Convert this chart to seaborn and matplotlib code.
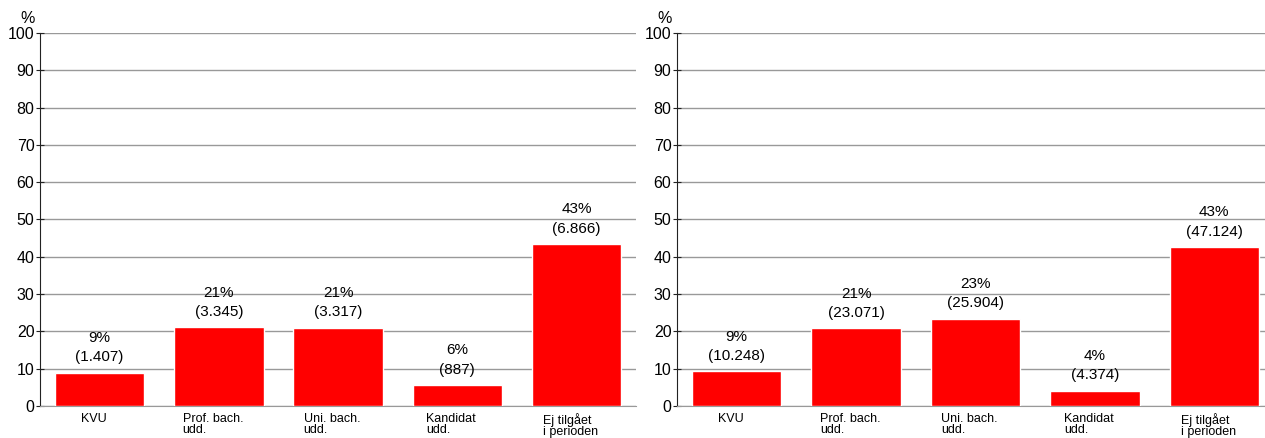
import matplotlib
matplotlib.use("Agg")
import matplotlib.pyplot as plt
import matplotlib.transforms as mtransforms
import seaborn as sns
import pandas as pd

categories = ["KVU", "Prof. bach.\nudd.", "Uni. bach.\nudd.", "Kandidat\nudd.", "Ej tilgået\ni perioden"]
left_pct = [8.9, 21.1, 21.0, 5.6, 43.4]
left_n = [1407, 3345, 3317, 887, 6866]
right_pct = [9.3, 20.8, 23.4, 4.0, 42.6]
right_n = [10248, 23071, 25904, 4374, 47124]
yticks = [0, 10, 20, 30, 40, 50, 60, 70, 80, 90, 100]

sns.set_style("white")
plt.rcParams['font.family'] = ['Liberation Sans', 'DejaVu Sans']
plt.rcParams['text.color'] = 'black'
plt.rcParams['xtick.color'] = 'black'
plt.rcParams['ytick.color'] = 'black'

fig = plt.figure(figsize=(12.65, 4.38), dpi=100)
positions = [[40 / 1265, 0.0731, 596 / 1265, 0.8516],
             [677 / 1265, 0.0731, 597 / 1265, 0.8516]]


def panel(ax, pct, counts):
    df = pd.DataFrame({"cat": categories, "pct": pct})
    sns.barplot(data=df, x="cat", y="pct", color="#ff0000", saturation=1,
                width=0.75, ax=ax, zorder=3)
    ax.set_xlim(-0.5, 4.5)
    ax.set_ylim(0, 100)
    ax.set_yticks(yticks)
    ax.yaxis.grid(True, color="#999999", linewidth=1, zorder=0)
    ax.set_xlabel("")
    ax.set_ylabel("")
    for s in ["top", "right"]:
        ax.spines[s].set_visible(False)
    ax.spines["left"].set_color("#222222")
    ax.spines["bottom"].set_color("#999999")
    ax.tick_params(axis="y", direction="inout", length=6, color="#222222",
                   labelsize=11.5, pad=1, left=True)
    ax.tick_params(axis="x", length=0, labelsize=9, pad=5)
    shift = mtransforms.ScaledTranslation(-6 / 100, 0, fig.dpi_scale_trans)
    for lab in ax.get_xticklabels():
        lab.set_multialignment("left")
        lab.set_linespacing(0.95)
        lab.set_transform(lab.get_transform() + shift)
    for i, (p, n) in enumerate(zip(pct, counts)):
        txt = f"{round(p):.0f}%\n({n:,})".replace(",", ".")
        ax.text(i, p + 2.3, txt, ha="center", va="bottom", fontsize=11,
                linespacing=1.47)
    ax.text(-0.021, 1.02, "%", transform=ax.transAxes, ha="center",
            va="bottom", fontsize=11.5)


for pos, pct, n in [(positions[0], left_pct, left_n), (positions[1], right_pct, right_n)]:
    ax = fig.add_axes(pos)
    panel(ax, pct, n)

fig.savefig("out.png", dpi=100)
